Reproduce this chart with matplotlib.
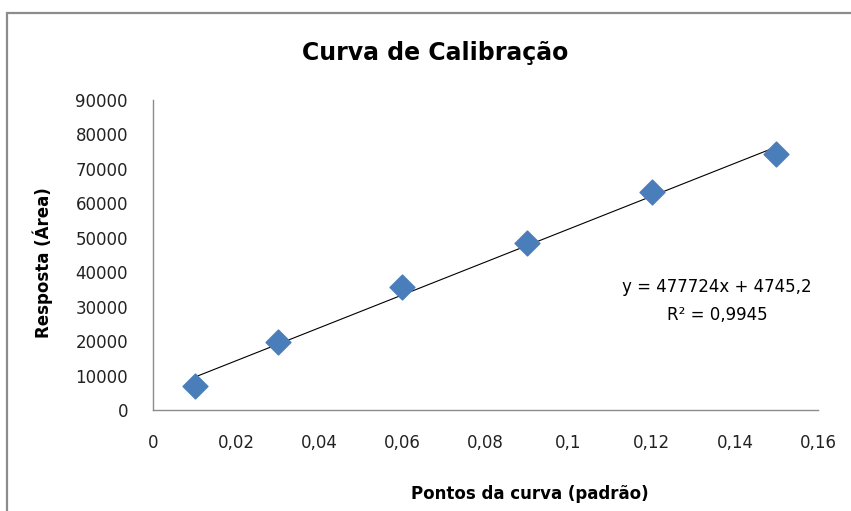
"""
Curva de calibracao: resposta (area) em funcao da concentracao dos padroes,
com a linha de tendencia linear e a equacao do ajuste.
"""
import numpy as np
from matplotlib import pyplot as plt
from matplotlib.patches import Rectangle
from matplotlib.ticker import FuncFormatter

# pontos da curva (padrao) e resposta lida
pontos = [0.01, 0.03, 0.06, 0.09, 0.12, 0.15]
resposta = [6900, 19740, 35600, 48490, 63300, 74300]

# coeficientes da linha de tendencia (como mostrado no grafico)
inclinacao = 477724
intercepto = 4745.2
r2 = 0.9945

x_ticks = [0, 0.02, 0.04, 0.06, 0.08, 0.1, 0.12, 0.14, 0.16]
y_ticks = [0, 10000, 20000, 30000, 40000, 50000, 60000, 70000, 80000, 90000]

W, H = 851, 511


def virgula(v, pos):
    s = f"{v:.2f}".rstrip("0").rstrip(".")
    return s.replace(".", ",")


def main():
    fig = plt.figure(figsize=(W / 100, H / 100), dpi=100)
    ax = fig.add_axes([153 / W, 1 - 410 / H, (818 - 153) / W, (410 - 100) / H])

    # moldura do grafico (so aparecem o topo e a esquerda)
    fig.patches.append(Rectangle((7 / W, -0.2), 1.2, 1 - 13 / H + 0.2,
                                 transform=fig.transFigure, fill=False,
                                 edgecolor="#8c8c8c", lw=1.6))

    ax.scatter(pontos, resposta, marker="D", s=160, color="#4a7ebb",
               edgecolors="#4a7ebb", zorder=3)

    xl = np.array([pontos[0], pontos[-1]])
    ax.plot(xl, inclinacao * xl + intercepto, color="black", lw=0.8, zorder=2)

    ax.set_xlim(0, 0.16)
    ax.set_ylim(0, 90000)
    ax.set_xticks(x_ticks)
    ax.set_yticks(y_ticks)
    ax.xaxis.set_major_formatter(FuncFormatter(virgula))
    ax.tick_params(length=0, labelsize=12, colors="#222222")
    ax.tick_params(axis="x", pad=17)
    ax.tick_params(axis="y", pad=18)
    for s in ["top", "right"]:
        ax.spines[s].set_visible(False)
    for s in ["left", "bottom"]:
        ax.spines[s].set_color("#8c8c8c")
        ax.spines[s].set_linewidth(1)

    fig.text(435 / W, 1 - 53 / H, "Curva de Calibração", ha="center",
             va="center", fontsize=17, fontweight="bold")
    fig.text(43 / W, 1 - 263 / H, "Resposta (Área)", rotation=90,
             ha="center", va="center", fontsize=12, fontweight="bold")
    fig.text(530 / W, 1 - 494 / H, "Pontos da curva (padrão)", ha="center",
             va="center", fontsize=12, fontweight="bold")

    eq = f"y = {inclinacao}x + {str(intercepto).replace('.', ',')}\n" \
         f"R² = {str(r2).replace('.', ',')}"
    fig.text(717 / W, 1 - 301 / H, eq, ha="center", va="center",
             fontsize=12, multialignment="center", linespacing=1.75)

    fig.savefig("out.png", dpi=100)


if __name__ == "__main__":
    main()
